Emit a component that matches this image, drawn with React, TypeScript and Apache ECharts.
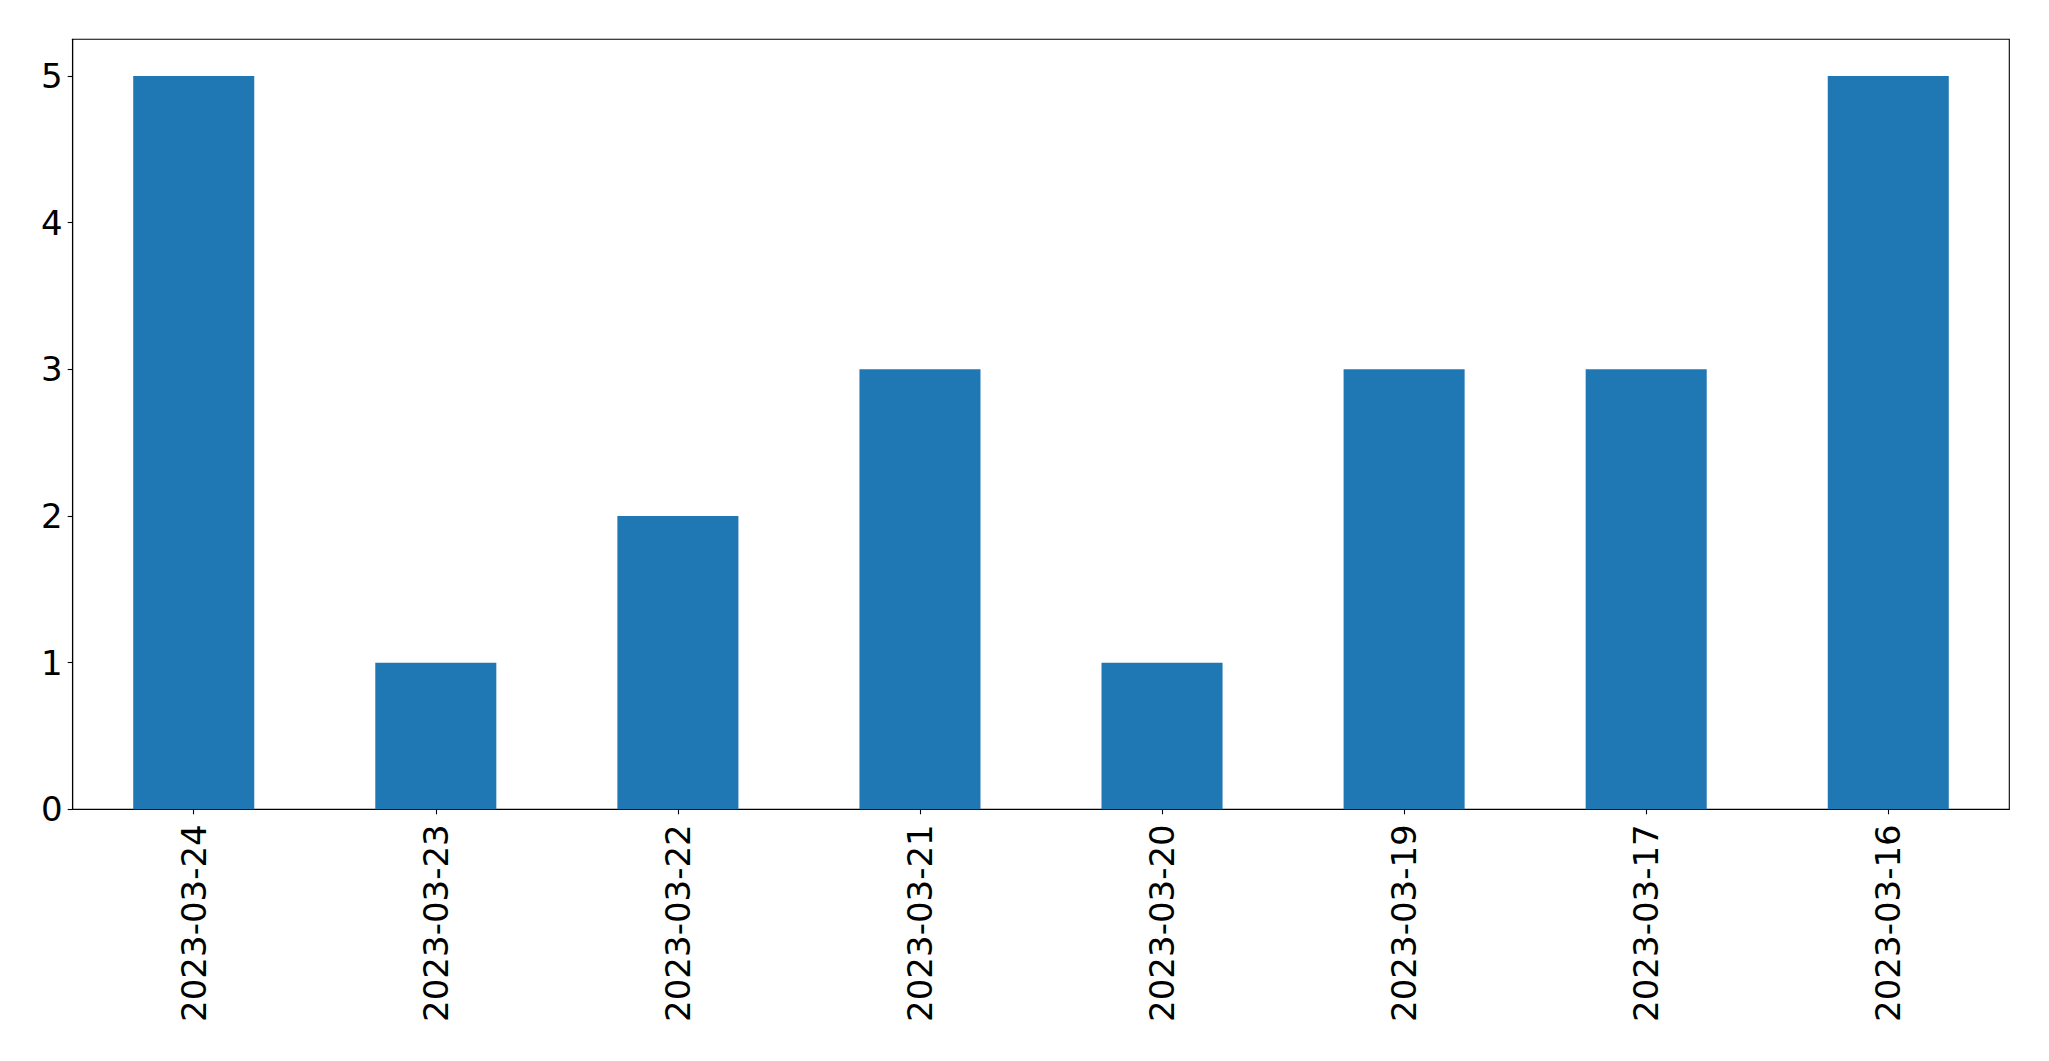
import React, { useEffect, useRef } from "react";
import * as echarts from "echarts";

const categories = [
  "2023-03-24",
  "2023-03-23",
  "2023-03-22",
  "2023-03-21",
  "2023-03-20",
  "2023-03-19",
  "2023-03-17",
  "2023-03-16",
];
const counts = [5, 1, 2, 3, 1, 3, 3, 5];
const yTicks = [0, 1, 2, 3, 4, 5];
const yMax = 5.25;

export default function App() {
  const ref = useRef<HTMLDivElement>(null);
  useEffect(() => {
    if (!ref.current) return;
    const chart = echarts.init(ref.current, null, { renderer: "svg" });
    const font = "DejaVu Sans";
    chart.setOption({
      animation: false,
      backgroundColor: "#ffffff",
      grid: {
        left: 72.7,
        top: 39.3,
        right: 39.7,
        bottom: 251.7,
        show: true,
        borderColor: "#000000",
        borderWidth: 1.1,
        backgroundColor: "transparent",
      },
      xAxis: {
        type: "category",
        data: categories,
        boundaryGap: true,
        axisLine: { show: true, lineStyle: { color: "#000000", width: 1.1 } },
        axisTick: { show: true, alignWithLabel: true, length: 5, lineStyle: { color: "#000000", width: 1.1 } },
        axisLabel: {
          rotate: 90,
          margin: 15,
          fontSize: 34,
          fontFamily: font,
          color: "#000000",
          interval: 0,
        },
        splitLine: { show: false },
      },
      yAxis: {
        type: "value",
        min: 0,
        max: yMax,
        interval: 1,
        axisLine: { show: true, lineStyle: { color: "#000000", width: 1.1 } },
        axisTick: { show: true, length: 5, lineStyle: { color: "#000000", width: 1.1 }, customValues: yTicks },
        axisLabel: {
          margin: 10,
          fontSize: 34,
          fontFamily: font,
          color: "#000000",
          customValues: yTicks,
        },
        splitLine: { show: false },
      },
      series: [
        {
          type: "bar",
          data: counts,
          barWidth: "50%",
          itemStyle: { color: "#1f77b4" },
        },
      ],
    });
    return () => chart.dispose();
  }, []);
  return (
    <div
      ref={ref}
      style={{ position: "absolute", left: 0, top: 0, width: 2049, height: 1061 }}
    />
  );
}
